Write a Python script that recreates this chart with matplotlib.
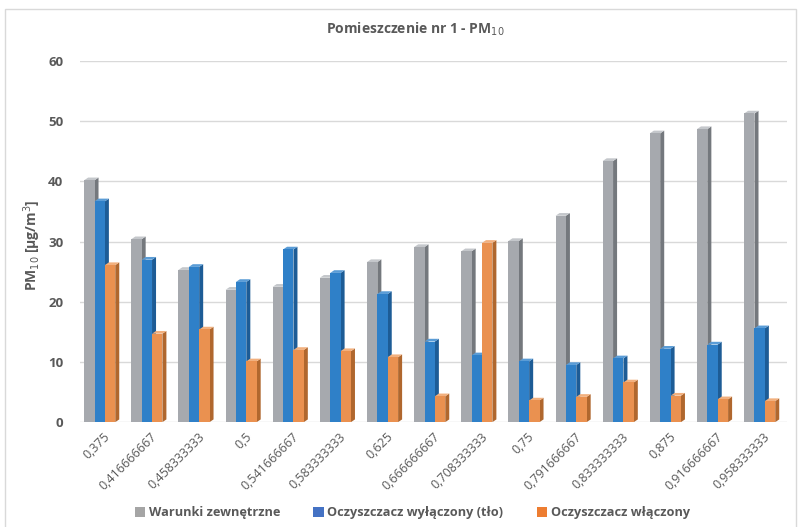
import matplotlib
matplotlib.use("Agg")
import matplotlib.pyplot as plt
from matplotlib.patches import Polygon, Rectangle
import numpy as np

plt.rcParams['font.family'] = ['Open Sans', 'DejaVu Sans']

categories = ["0,375", "0,416666667", "0,458333333", "0,5", "0,541666667",
              "0,583333333", "0,625", "0,666666667", "0,708333333", "0,75",
              "0,791666667", "0,833333333", "0,875", "0,916666667", "0,958333333"]
outdoor = [40.2, 30.4, 25.3, 22.0, 22.5, 24.0, 26.6, 29.1, 28.4, 30.1,
           34.3, 43.4, 48.0, 48.7, 51.3]
purifier_off = [36.7, 27.0, 25.8, 23.3, 28.7, 24.8, 21.3, 13.4, 11.1, 10.1,
                9.5, 10.6, 12.2, 12.9, 15.6]
purifier_on = [26.1, 14.7, 15.4, 10.1, 12.0, 11.8, 10.8, 4.3, 29.8, 3.6,
               4.2, 6.6, 4.4, 3.8, 3.5]
series_names = ["Warunki zewnętrzne", "Oczyszczacz wyłączony (tło)", "Oczyszczacz włączony"]

front_colors = ["#a6a9ae", "#2f80c8", "#ea9150"]
side_colors = ["#74787d", "#1d5c96", "#b0672e"]
top_colors = ["#c4c7cb", "#5a9cd6", "#f2b07e"]
legend_colors = ["#a5a5a5", "#4472c4", "#ed7d31"]
text_gray = "#595959"

fig = plt.figure(figsize=(7.99, 5.27), dpi=100)
# outer chart frame
fig.patches.append(Rectangle((0.006, -0.01), 0.99, 0.993, transform=fig.transFigure,
                             fill=False, edgecolor="#d9d9d9", linewidth=1.0))
ax = fig.add_axes([0.100, 0.199, 0.885, 0.685])

x = np.arange(len(categories))
bw = 0.22
dx = 0.085   # depth offset (x, data units)
dy = 0.45    # depth offset (y, data units)
offsets = [-bw, 0.0, bw]

for s, vals in enumerate([outdoor, purifier_off, purifier_on]):
    for i, v in enumerate(vals):
        xl = x[i] + offsets[s] - bw / 2 - 0.08
        xr = xl + bw
        # side face
        ax.add_patch(Polygon([(xr, 0), (xr + dx, dy), (xr + dx, v + dy), (xr, v)],
                             closed=True, facecolor=side_colors[s], edgecolor="none", zorder=3 + s))
        # top face
        ax.add_patch(Polygon([(xl, v), (xl + dx, v + dy), (xr + dx, v + dy), (xr, v)],
                             closed=True, facecolor=top_colors[s], edgecolor="none", zorder=3 + s))
        # front face
        ax.add_patch(Rectangle((xl, 0), bw, v, facecolor=front_colors[s],
                               edgecolor="none", zorder=3 + s))

ax.set_xlim(-0.5, len(categories) - 0.5)
ax.set_ylim(0, 60)
ax.set_yticks(np.arange(0, 61, 10))
ax.yaxis.grid(True, color="#d9d9d9", linewidth=1.0)
ax.set_axisbelow(True)
for sp in ax.spines.values():
    sp.set_visible(False)
ax.tick_params(axis="both", length=0)
ax.tick_params(axis="y", pad=12, labelsize=9.5, labelcolor=text_gray)
for t in ax.get_yticklabels():
    t.set_fontweight("bold")
ax.set_xticks(x)
ax.set_xticklabels(categories, rotation=45, ha="right", rotation_mode="anchor",
                   fontsize=9, color=text_gray)
ax.tick_params(axis="x", pad=6)

ax.set_ylabel("PM$_{10}$ [µg/m$^3$]", fontsize=10, color=text_gray, fontweight="bold")
ax.yaxis.set_label_coords(-0.052, 0.49)
fig.text(0.52, 0.945, "Pomieszczenie nr 1 - PM$_{10}$", ha="center", va="center",
         fontsize=10, fontweight="bold", color=text_gray)

handles = [Rectangle((0, 0), 1, 1, facecolor=c, edgecolor="none") for c in legend_colors]
fig.legend(handles, series_names, loc="center", bbox_to_anchor=(0.516, 0.027), ncol=3,
           frameon=False, handlelength=0.8, handleheight=0.8,
           handletextpad=0.3, columnspacing=2.6, labelcolor=text_gray,
           prop={"weight": "bold", "size": 9.2})

fig.savefig("out.png", dpi=100)
